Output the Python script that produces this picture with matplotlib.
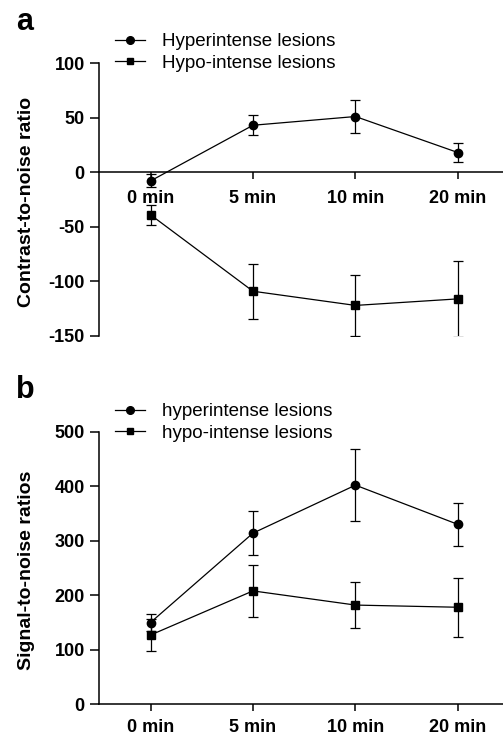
import matplotlib
matplotlib.use('Agg')
import matplotlib.pyplot as plt
from matplotlib.lines import Line2D

plt.rcParams['font.family'] = ['Liberation Sans', 'DejaVu Sans']
plt.rcParams['axes.unicode_minus'] = False

# shared categories
times = ['0 min', '5 min', '10 min', '20 min']

# panel a: contrast-to-noise ratio
cnr_hyper = [-8, 43, 51, 18]
cnr_hyper_err = [6, 9, 15, 9]
cnr_hypo = [-39, -109, -122, -116]
cnr_hypo_err = [9, 25, 28, 35]

# panel b: signal-to-noise ratios
snr_hyper = [150, 314, 402, 330]
snr_hyper_err = [16, 41, 66, 39]
snr_hypo = [127, 208, 182, 178]
snr_hypo_err = [29, 48, 42, 54]

fig = plt.figure(figsize=(5.03, 7.37), dpi=100)
ax1 = fig.add_axes([0.1974, 0.5441, 0.8026, 0.3704])
ax2 = fig.add_axes([0.1974, 0.0444, 0.8026, 0.3698])

x = list(range(len(times)))
lw = 0.9
tick_fs = 13

def draw(ax, y, err, marker, ms):
    ax.errorbar(x, y, yerr=err, color='black', lw=lw, elinewidth=lw,
                capsize=3.5, capthick=lw, marker=marker, ms=ms,
                markerfacecolor='black', markeredgecolor='black')

draw(ax1, cnr_hyper, cnr_hyper_err, 'o', 6)
draw(ax1, cnr_hypo, cnr_hypo_err, 's', 5.5)
draw(ax2, snr_hyper, snr_hyper_err, 'o', 6)
draw(ax2, snr_hypo, snr_hypo_err, 's', 5.5)

# panel a: x axis sits on y = 0
ax1.spines['bottom'].set_position(('data', 0))
ax1.set_ylim(-150, 100)
ax1.set_yticks([100, 50, 0, -50, -100, -150])
ax1.set_yticklabels(['100', '50', '0', '-50', '-100', '-150'])
ax1.set_ylabel('Contrast-to-noise ratio', fontweight='bold', fontsize=14)

# panel b
ax2.set_ylim(0, 500)
ax2.set_yticks([0, 100, 200, 300, 400, 500])
ax2.set_yticklabels(['0', '100', '200', '300', '400', '500'])
ax2.set_ylabel('Signal-to-noise ratios', fontweight='bold', fontsize=14)

for ax in (ax1, ax2):
    ax.set_xlim(-0.5, 3.44)
    ax.set_xticks(x)
    ax.set_xticklabels(times)
    for lab in ax.get_xticklabels() + ax.get_yticklabels():
        lab.set_fontweight('bold')
        lab.set_fontsize(tick_fs)
    ax.spines['top'].set_visible(False)
    ax.spines['right'].set_visible(False)
    ax.spines['left'].set_linewidth(1.1)
    ax.spines['bottom'].set_linewidth(1.1)
    ax.tick_params(axis='y', length=6.5, width=1.1, pad=4)
    ax.tick_params(axis='x', length=5.3, width=1.1, pad=7.5)
    ax.yaxis.set_label_coords(-0.159, 0.49)
    ax.patch.set_visible(False)

ax2.tick_params(axis='x', pad=5.5)

def legend(labels, y):
    handles = [Line2D([], [], color='black', lw=lw, marker='o', ms=5.5),
               Line2D([], [], color='black', lw=lw, marker='s', ms=5)]
    fig.legend(handles, labels, loc='upper left', bbox_to_anchor=(0.228, y),
               frameon=False, fontsize=13.5, handlelength=1.6, handletextpad=0.95,
               labelspacing=0.25, borderaxespad=0, borderpad=0)

legend(['Hyperintense lesions', 'Hypo-intense lesions'], 1 - 33 / 737)
legend(['hyperintense lesions', 'hypo-intense lesions'], 1 - 403 / 737)

fig.text(16 / 503, 1 - 7 / 737, 'a', fontsize=22, fontweight='bold', va='top')
fig.text(16 / 503, 1 - 375 / 737, 'b', fontsize=22, fontweight='bold', va='top')

fig.savefig('out.png', dpi=100)
